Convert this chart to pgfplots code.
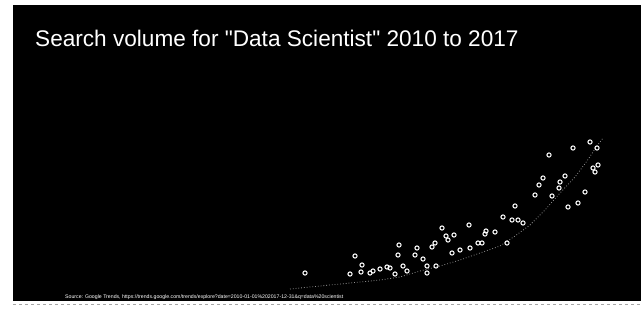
\documentclass[border=0pt]{standalone}
\usepackage{pgfplots}
\pgfplotsset{compat=1.18}
\usepackage{fontspec}
\setmainfont{Liberation Sans}[Ligatures=TeXOff]
\begin{document}
\begin{tikzpicture}
\begin{axis}[
  x=1pt, y=1pt,
  xmin=0, xmax=642, ymin=0, ymax=311,
  hide axis, clip=false,
  scale only axis,
]
% page background and dark slide
\fill[white] (axis cs:0,0) rectangle (axis cs:642,311);
\fill[black] (axis cs:13,10) rectangle (axis cs:641,306);
\draw[gray!70, line width=0.6pt, dashed] (axis cs:13,7) -- (axis cs:641,7);
% trend line
\addplot[gray!85!white, dotted, line width=0.8pt] coordinates {
(290,22) (320,25) (350,28) (380,31) (400,34) (420,40) (440,45) (460,51)
(480,58) (500,65) (515,75) (530,86) (545,101) (560,118) (575,134)
(587,150) (597,165) (603,173)
};
% monthly search volume
\addplot[only marks, mark=o, mark size=2.1pt, white, line width=1pt] coordinates {
(305,38) (350,37) (355,55) (362,46) (361,39) (370,38) (373,40) (380,42)
(387,44) (390,43) (395,37) (398,56) (399,66) (403,45) (407,40) (415,56)
(417,63) (423,52) (427,45) (427,38) (432,64) (435,68) (436,45) (442,83)
(446,75) (448,71) (452,58) (454,76) (460,61) (469,86) (470,63) (478,68)
(482,68) (485,77) (486,80) (495,79) (503,94) (507,68) (512,91) (515,105)
(518,91) (523,88) (535,116) (539,126) (543,133) (549,156) (552,115)
(559,123) (560,129) (565,135) (568,104) (573,163) (578,108) (585,119)
(590,169) (593,143) (595,139) (597,163) (598,146)
};
\node[anchor=base west, white, font=\fontsize{22.6}{26}\selectfont, inner sep=0pt]
  at (axis cs:35,264) {Search volume for "Data Scientist" 2010 to 2017};
\node[anchor=west, white, font=\fontsize{5.2}{6}\selectfont, inner sep=0pt]
  at (axis cs:65,14) {Source: Google Trends, https://trends.google.com/trends/explore?date=2010-01-01\%202017-12-31\&q=data\%20scientist};
\end{axis}
\end{tikzpicture}
\end{document}
